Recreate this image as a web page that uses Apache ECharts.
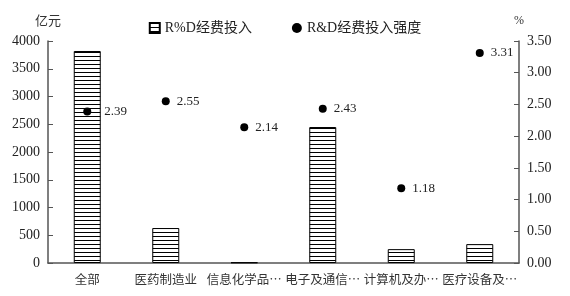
<!DOCTYPE html>
<html><head><meta charset="utf-8">
<script src="https://cdn.jsdelivr.net/npm/echarts@6/dist/echarts.min.js"></script>
<style>html,body{margin:0;padding:0;background:#fff}#c{width:570px;height:296px}</style>
</head><body><div id="c"></div>
<script>
const categories = ['全部','医药制造业','信息化学品…','电子及通信…','计算机及办…','医疗设备及…'];
const investment = [3820, 630, 10, 2450, 250, 340];
const intensity = [2.39, 2.55, 2.14, 2.43, 1.18, 3.31];
const leftTicks = [0, 4000, 500];
const rightTicks = [0, 3.5, 0.5];

const cv = document.createElement('canvas');
cv.width = 4; cv.height = 4;
const cx = cv.getContext('2d');
cx.fillStyle = '#fff'; cx.fillRect(0,0,4,4);
cx.fillStyle = '#000'; cx.fillRect(0,0,4,1);

const serif = '"Liberation Serif","Noto Sans CJK SC",serif';
const chart = echarts.init(document.getElementById('c'));
chart.setOption({
  animation: false,
  textStyle: {fontFamily: serif},
  legend: {
    top: 16, left: 'center', itemGap: 40, itemWidth: 10, itemHeight: 10,
    textStyle: {fontFamily: serif, fontSize: 14, color: '#222'},
    data: [
      {name: 'R%D经费投入', icon: 'rect'},
      {name: 'R&D经费投入强度', icon: 'circle', itemStyle: {color: '#000', opacity: 1}}
    ]
  },
  grid: {left: 48, right: 51, top: 41, bottom: 33},
  xAxis: {
    type: 'category', data: categories,
    axisLine: {lineStyle: {color: '#555', width: 1.5}},
    axisTick: {inside: true, length: 6, lineStyle: {color: '#555'}},
    axisLabel: {fontSize: 12.5, color: '#333', margin: 10, fontFamily: '"Noto Sans CJK SC",sans-serif', interval: 0}
  },
  yAxis: [{
    type: 'value', min: leftTicks[0], max: leftTicks[1], interval: leftTicks[2],
    name: '亿元', nameGap: 14, nameTextStyle: {fontSize: 13, color: '#333', align: 'center', fontFamily: '"Noto Sans CJK SC",serif'},
    axisLine: {show: true, lineStyle: {color: '#555', width: 1.5}},
    axisTick: {show: true, inside: true, length: 5, lineStyle: {color: '#555'}},
    axisLabel: {fontSize: 14, color: '#222', fontFamily: serif, margin: 8, formatter: v => String(v)},
    splitLine: {show: false}
  }, {
    type: 'value', min: rightTicks[0], max: rightTicks[1], interval: rightTicks[2],
    name: '%', nameGap: 14, nameTextStyle: {fontSize: 12, color: '#333', align: 'center'},
    axisLine: {show: true, lineStyle: {color: '#555', width: 1.5}},
    axisTick: {show: true, inside: true, length: 5, lineStyle: {color: '#555'}},
    axisLabel: {fontSize: 14, color: '#222', fontFamily: serif, margin: 8, formatter: v => v.toFixed(2)},
    splitLine: {show: false}
  }],
  series: [{
    name: 'R%D经费投入', type: 'bar', yAxisIndex: 0, data: investment, barWidth: 27,
    itemStyle: {color: {image: cv, repeat: 'repeat'}, borderColor: '#000', borderWidth: 1}
  }, {
    name: 'R&D经费投入强度', type: 'scatter', yAxisIndex: 1, symbolSize: 8,
    data: intensity.map((v, i) => i === 0 ? {value: v, label: {distance: 13}} : v),
    itemStyle: {color: '#000', opacity: 1},
    label: {show: true, position: 'right', distance: 7, fontSize: 13, color: '#222', fontFamily: serif, formatter: p => p.value.toFixed(2)}
  }]
});
</script></body></html>
